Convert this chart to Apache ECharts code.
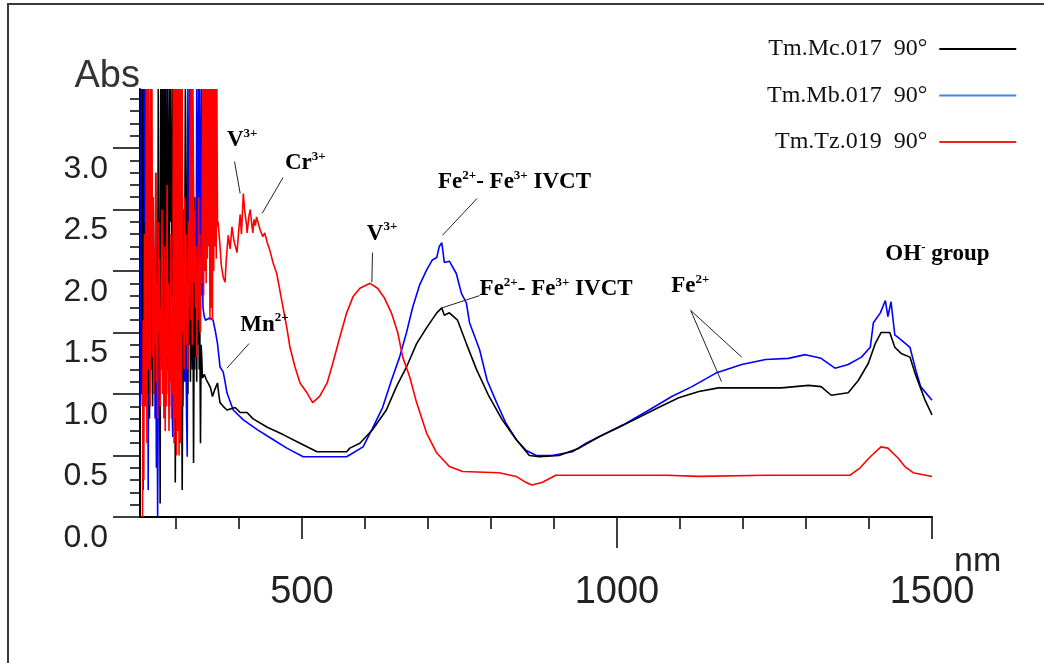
<!DOCTYPE html>
<html><head><meta charset="utf-8">
<script src="https://cdn.jsdelivr.net/npm/echarts@6/dist/echarts.min.js"></script>
<style>html,body{margin:0;padding:0;background:#fff}#c{width:1044px;height:663px}</style>
</head><body><div id="c"></div>
<script>
// ---------- DATA ----------
const seriesNames = ['Tm.Mc.017  90°', 'Tm.Mb.017  90°', 'Tm.Tz.019  90°'];
const xTickLabels = [500, 1000, 1500];
const xMinorTicks = [300, 400, 500, 600, 700, 800, 900, 1000, 1100, 1200, 1300, 1400, 1500];
const xMidTicks = [500, 1500];
const xBigTicks = [1000];
const yTickLabels = [0, 0.5, 1.0, 1.5, 2.0, 2.5, 3.0];
const yMinorTicks = [0.1,0.2,0.3,0.4,0.6,0.7,0.8,0.9,1.1,1.2,1.3,1.4,1.6,1.7,1.8,1.9,2.1,2.2,2.3,2.4,2.6,2.7,2.8,2.9,3.1,3.2,3.3,3.4];

// Tm.Mc.017 (black)
const mcData = [
[246,1.0],[247,3.48],[248,1.3],[249,2.4],[250,1.1],[251,1.9],[252,0.9],[253,2.2],[254,1.4],[255,2.0],[256,1.0],[257,1.6],[258,0.8],[259,1.5],[260,2.3],[261,1.2],[262,1.8],[263,0.9],[264,2.6],[265,1.3],[266,1.9],[267,1.0],[268,2.8],[269,1.5],[270,2.1],[271,1.2],[272,3.48],[273,3.48],[274,1.4],[275,0.11],[276,3.48],[277,3.48],[278,1.6],[279,3.48],[280,3.48],[281,0.9],[282,3.48],[283,2.0],[284,3.48],[285,3.48],[286,1.2],[287,3.48],[288,3.48],[289,1.6],[290,3.48],[291,2.4],[292,3.48],[293,3.48],[294,1.3],[295,3.48],[296,3.48],[297,1.8],[298,2.6],[299,0.28],[300,1.5],[301,2.2],[302,1.0],[303,2.7],[304,1.6],[305,2.0],[306,1.1],[307,1.8],[308,2.4],[309,1.3],[310,0.22],[311,1.7],[312,2.5],[313,1.2],[314,2.1],[315,3.48],[316,3.48],[317,3.48],[318,3.48],[319,1.0],[320,2.0],[321,1.4],[322,2.8],[323,1.1],[324,1.7],[325,2.3],[326,1.2],[327,1.9],[328,0.44],[329,1.6],[330,2.6],[331,1.3],[332,2.0],[333,1.1],[334,1.8],[335,1.4],[336,2.2],[337,1.2],[338,1.5],[339,0.60],[340,1.4],[341,1.3],[342,1.13],[345,1.16],[348,1.12],[351,1.09],[355,1.05],[358,0.98],[362,1.04],[366,1.09],[368,1.00],[370,0.93],[375,0.90],[381,0.87],[394,0.89],[402,0.85],[413,0.85],[422,0.80],[445,0.73],[470,0.67],[497,0.60],[524,0.53],[550,0.53],[571,0.53],[576,0.56],[592,0.60],[612,0.71],[634,0.87],[650,1.06],[666,1.22],[682,1.41],[698,1.54],[714,1.66],[722,1.70],[726,1.64],[734,1.66],[747,1.60],[761,1.41],[777,1.20],[797,0.98],[818,0.79],[840,0.63],[861,0.50],[877,0.49],[908,0.50],[940,0.56],[971,0.65],[1003,0.73],[1035,0.81],[1066,0.89],[1098,0.97],[1130,1.02],[1161,1.05],[1209,1.05],[1261,1.05],[1304,1.07],[1324,1.06],[1340,0.99],[1367,1.01],[1383,1.11],[1399,1.25],[1410,1.41],[1419,1.50],[1433,1.50],[1441,1.38],[1451,1.33],[1465,1.30],[1473,1.17],[1481,1.06],[1489,0.95],[1500,0.83]
];

// Tm.Mb.017 (blue)
const mbData = [
[244,0.9],[245,3.48],[246,3.48],[247,1.4],[248,0.22],[249,3.48],[250,2.1],[251,3.48],[252,1.5],[253,3.48],[254,2.4],[255,3.48],[256,0.22],[257,1.8],[258,2.6],[259,1.2],[260,2.9],[261,1.6],[262,2.2],[263,1.0],[264,2.4],[265,1.5],[266,2.0],[267,0.8],[268,1.7],[269,0.4],[270,1.3],[271,0.0],[272,1.1],[273,1.9],[274,0.9],[275,2.3],[276,1.4],[277,3.48],[278,3.48],[279,1.2],[280,3.48],[281,1.7],[282,3.48],[283,1.1],[284,3.48],[285,3.48],[286,1.4],[287,2.0],[288,1.0],[289,1.8],[290,0.9],[291,2.2],[292,1.3],[293,1.7],[294,0.9],[295,0.65],[296,1.6],[297,2.4],[298,1.2],[299,2.0],[300,1.4],[301,2.8],[302,1.1],[303,1.9],[304,1.3],[305,2.5],[306,1.0],[307,1.6],[308,2.1],[309,1.2],[310,1.7],[311,0.9],[312,1.5],[313,2.3],[314,1.1],[315,1.8],[316,1.3],[317,0.8],[318,0.49],[319,3.48],[320,3.48],[321,1.5],[322,3.48],[323,3.48],[324,1.3],[325,2.2],[326,1.6],[327,2.6],[328,1.4],[329,2.0],[330,1.2],[331,1.8],[332,1.5],[333,3.48],[334,3.48],[335,1.9],[336,3.48],[337,2.2],[338,3.48],[339,3.48],[340,1.8],[341,3.48],[342,2.0],[343,1.70],[345,1.63],[347,1.60],[354,1.62],[359,1.60],[363,1.50],[366,1.41],[370,1.22],[375,1.18],[378,1.10],[381,1.01],[391,0.87],[407,0.79],[429,0.71],[454,0.63],[476,0.56],[502,0.49],[529,0.49],[571,0.49],[597,0.57],[612,0.72],[628,0.89],[642,1.11],[655,1.30],[666,1.50],[676,1.71],[687,1.89],[698,2.01],[707,2.09],[714,2.11],[718,2.20],[722,2.23],[726,2.07],[734,2.08],[745,1.98],[753,1.82],[761,1.74],[766,1.58],[782,1.36],[794,1.11],[809,0.93],[824,0.76],[840,0.63],[856,0.54],[872,0.50],[897,0.50],[929,0.53],[951,0.60],[982,0.68],[1014,0.76],[1051,0.87],[1087,0.98],[1119,1.06],[1157,1.17],[1198,1.24],[1236,1.28],[1272,1.29],[1299,1.32],[1324,1.29],[1346,1.21],[1367,1.24],[1388,1.30],[1402,1.38],[1407,1.58],[1418,1.66],[1426,1.76],[1430,1.63],[1435,1.75],[1438,1.76],[1441,1.48],[1451,1.44],[1465,1.38],[1474,1.20],[1482,1.06],[1500,0.95]
];

// Tm.Tz.019 (red)
const tzData = [
[247,0.0],[248,1.6],[249,0.3],[250,2.3],[251,0.9],[252,1.1],[253,3.48],[254,0.6],[255,3.48],[256,1.2],[257,3.48],[258,3.48],[259,0.9],[260,3.48],[261,2.0],[262,3.48],[263,1.3],[264,2.6],[265,1.0],[266,2.2],[267,1.4],[268,2.8],[269,1.1],[270,1.9],[271,0.8],[272,2.4],[273,1.5],[274,2.1],[275,0.9],[276,1.7],[277,1.2],[278,2.5],[279,1.0],[280,1.6],[281,0.8],[282,2.2],[283,0.7],[284,1.5],[285,0.9],[286,2.7],[287,1.3],[288,1.9],[289,0.7],[290,1.4],[291,1.1],[292,2.3],[293,0.8],[294,1.8],[295,1.0],[296,3.48],[297,0.6],[298,3.48],[299,0.8],[300,3.48],[301,0.5],[302,3.48],[303,0.7],[304,3.48],[305,0.5],[306,3.48],[307,0.6],[308,3.48],[309,0.9],[310,3.48],[311,1.5],[312,2.1],[313,1.2],[314,2.6],[315,1.6],[316,2.3],[317,1.4],[318,1.9],[319,1.2],[320,2.4],[321,1.7],[322,2.8],[323,3.48],[324,1.6],[325,3.48],[326,1.4],[327,3.48],[328,3.48],[329,1.9],[330,2.5],[331,1.7],[332,2.2],[333,1.3],[334,2.0],[335,1.6],[336,2.6],[337,1.8],[338,2.3],[339,1.5],[340,2.1],[341,1.9],[342,2.9],[343,3.48],[344,1.8],[345,3.48],[346,2.0],[347,3.48],[348,1.9],[349,3.48],[350,2.1],[351,3.48],[352,2.2],[353,3.48],[354,1.6],[355,3.48],[356,1.7],[357,3.48],[358,1.6],[359,3.48],[360,2.0],[361,3.48],[362,2.2],[363,3.48],[364,2.1],[365,3.48],[366,2.36],[367,2.40],[370,2.20],[372,2.05],[375,1.95],[378,1.91],[380,2.10],[383,2.29],[386,2.18],[389,2.36],[392,2.25],[394,2.21],[397,2.15],[400,2.35],[402,2.46],[404,2.30],[407,2.63],[409,2.50],[410,2.46],[412,2.38],[413,2.31],[416,2.45],[418,2.50],[420,2.40],[422,2.31],[424,2.42],[426,2.37],[428,2.44],[430,2.40],[434,2.33],[438,2.28],[441,2.31],[445,2.23],[449,2.17],[454,2.07],[460,1.98],[468,1.76],[476,1.54],[481,1.38],[489,1.22],[497,1.09],[508,1.01],[517,0.93],[528,0.98],[540,1.09],[549,1.25],[560,1.46],[571,1.66],[581,1.79],[592,1.86],[608,1.90],[620,1.86],[631,1.78],[642,1.66],[652,1.50],[660,1.30],[671,1.14],[682,0.93],[698,0.68],[714,0.52],[734,0.41],[755,0.37],[813,0.36],[840,0.33],[856,0.28],[865,0.26],[881,0.28],[903,0.34],[971,0.34],[1077,0.34],[1130,0.33],[1236,0.34],[1370,0.34],[1386,0.40],[1402,0.49],[1419,0.57],[1430,0.56],[1446,0.48],[1457,0.41],[1470,0.36],[1500,0.33]
];

// Annotations (data coordinates: [nm, Abs])
const annotationTexts = [
  '{b|V}{s|3+}', '{b|Cr}{s|3+}', '{b|Mn}{s|2+}', '{b|V}{s|3+}',
  '{b|Fe}{s|2+}{b|- Fe}{s|3+}{b| IVCT}', '{b|Fe}{s|2+}{b|- Fe}{s|3+}{b| IVCT}',
  '{b|Fe}{s|2+}', '{b|OH}{s|-}{b| group}'
];
const annotationAnchors = [
  [381, 3.17], [473, 2.98], [402, 1.67], [603, 2.41],
  [716, 2.83], [782, 1.96], [1086, 1.98], [1426, 2.24]
];
const leaderLines = [
  [[393, 2.89], [402, 2.63]],
  [[470, 2.76], [437, 2.47]],
  [[416, 1.41], [381, 1.21]],
  [[612, 2.15], [611, 1.91]],
  [[778, 2.59], [723, 2.29]],
  [[782, 1.80], [722, 1.70]],
  [[1117, 1.68], [1198, 1.30]],
  [[1117, 1.68], [1166, 1.10]]
];

// ---------- CHART ----------
const X_MIN = 243, X_MAX = 1500, Y_MIN = 0, Y_MAX = 3.48;
const sansFont = 'Liberation Sans, Arial, sans-serif';
const serifFont = 'Liberation Serif, Times New Roman, serif';

const chart = echarts.init(document.getElementById('c'), null, {renderer: 'canvas'});

const hiddenAxisBase = {
  type: 'value', axisLine: {show: false}, axisLabel: {show: false}, splitLine: {show: false}
};

const option = {
  animation: false,
  backgroundColor: '#ffffff',
  grid: {left: 140, right: 112, top: 89, bottom: 146, containLabel: false},
  legend: {
    orient: 'vertical', left: 762, top: 32, align: 'right',
    icon: 'rect', itemWidth: 77, itemHeight: 2, itemGap: 22.5,
    textStyle: {fontFamily: serifFont, fontSize: 24, lineHeight: 24, color: '#111', padding: [0, 7, 0, 0]},
    data: [
      {name: seriesNames[0], itemStyle: {color: '#000000'}},
      {name: seriesNames[1], itemStyle: {color: '#3a88ea'}},
      {name: seriesNames[2], itemStyle: {color: '#ee2222'}}
    ]
  },
  xAxis: [
    {
      type: 'value', min: X_MIN, max: X_MAX, position: 'bottom',
      name: 'nm', nameLocation: 'end', nameGap: 22, nameMoveOverlap: false,
      nameTextStyle: {fontFamily: sansFont, fontSize: 34, color: '#222', align: 'left', verticalAlign: 'top', lineHeight: 90},
      axisLine: {show: true, onZero: false, lineStyle: {color: '#000', width: 2}},
      axisTick: {show: true, customValues: xMinorTicks, length: 12, lineStyle: {color: '#000', width: 1.5}},
      axisLabel: {show: true, customValues: xTickLabels, margin: 57, fontFamily: sansFont, fontSize: 38, color: '#222',
        formatter: v => String(Math.round(v))},
      splitLine: {show: false}
    },
    Object.assign({}, hiddenAxisBase, {min: X_MIN, max: X_MAX, position: 'bottom',
      axisTick: {show: true, customValues: xMidTicks, length: 22, lineStyle: {color: '#000', width: 1.5}}}),
    Object.assign({}, hiddenAxisBase, {min: X_MIN, max: X_MAX, position: 'bottom',
      axisTick: {show: true, customValues: xBigTicks, length: 31, lineStyle: {color: '#000', width: 1.5}}})
  ],
  yAxis: [
    {
      type: 'value', min: Y_MIN, max: Y_MAX, position: 'left',
      name: 'Abs', nameLocation: 'end', nameGap: -7, nameMoveOverlap: false,
      nameTextStyle: {fontFamily: sansFont, fontSize: 38, color: '#333', align: 'right', verticalAlign: 'bottom'},
      axisLine: {show: true, onZero: false, lineStyle: {color: '#000', width: 2}},
      axisTick: {show: true, customValues: yMinorTicks, length: 10, lineStyle: {color: '#000', width: 1.5}},
      axisLabel: {show: true, customValues: yTickLabels, margin: 32, fontFamily: sansFont, fontSize: 32, color: '#222',
        verticalAlign: 'top', padding: [5, 0, 0, 0], formatter: v => Number(v).toFixed(1)},
      splitLine: {show: false}
    },
    Object.assign({}, hiddenAxisBase, {min: Y_MIN, max: Y_MAX, position: 'left',
      axisTick: {show: true, customValues: yTickLabels, length: 27, lineStyle: {color: '#000', width: 1.5}}})
  ],
  series: [
    {name: seriesNames[1], type: 'line', data: mbData, showSymbol: false, symbol: 'none', clip: true,
      lineStyle: {color: '#0000ff', width: 1.6}, itemStyle: {color: '#3a88ea'}, xAxisIndex: 0, yAxisIndex: 0},
    {name: seriesNames[0], type: 'line', data: mcData, showSymbol: false, symbol: 'none', clip: true,
      lineStyle: {color: '#000000', width: 1.6}, itemStyle: {color: '#000000'}, xAxisIndex: 0, yAxisIndex: 0},
    {name: seriesNames[2], type: 'line', data: tzData, showSymbol: false, symbol: 'none', clip: true,
      lineStyle: {color: '#ff0000', width: 1.6}, itemStyle: {color: '#ee2222'}, xAxisIndex: 0, yAxisIndex: 0}
  ]
};
chart.setOption(option);

const toPx = p => chart.convertToPixel({xAxisIndex: 0, yAxisIndex: 0}, p);
const richStyle = {
  b: {fontFamily: serifFont, fontWeight: 'bold', fontSize: 23, lineHeight: 26, color: '#111'},
  s: {fontFamily: serifFont, fontWeight: 'bold', fontSize: 13, lineHeight: 14, color: '#111', verticalAlign: 'top'}
};
const graphics = [
  {type: 'rect', shape: {x: 8, y: 4, width: 1200, height: 800}, style: {fill: 'none', stroke: '#3a3a3a', lineWidth: 2}, silent: true, z: 0}
];
annotationTexts.forEach((t, i) => {
  const p = toPx(annotationAnchors[i]);
  graphics.push({type: 'text', x: p[0], y: p[1], z: 10,
    style: {text: t, rich: richStyle, align: 'left', verticalAlign: 'top'}});
});
leaderLines.forEach(l => {
  const a = toPx(l[0]), b = toPx(l[1]);
  graphics.push({type: 'line', z: 10, shape: {x1: a[0], y1: a[1], x2: b[0], y2: b[1]},
    style: {stroke: '#222', lineWidth: 1}});
});
chart.setOption({graphic: graphics});
</script></body></html>
